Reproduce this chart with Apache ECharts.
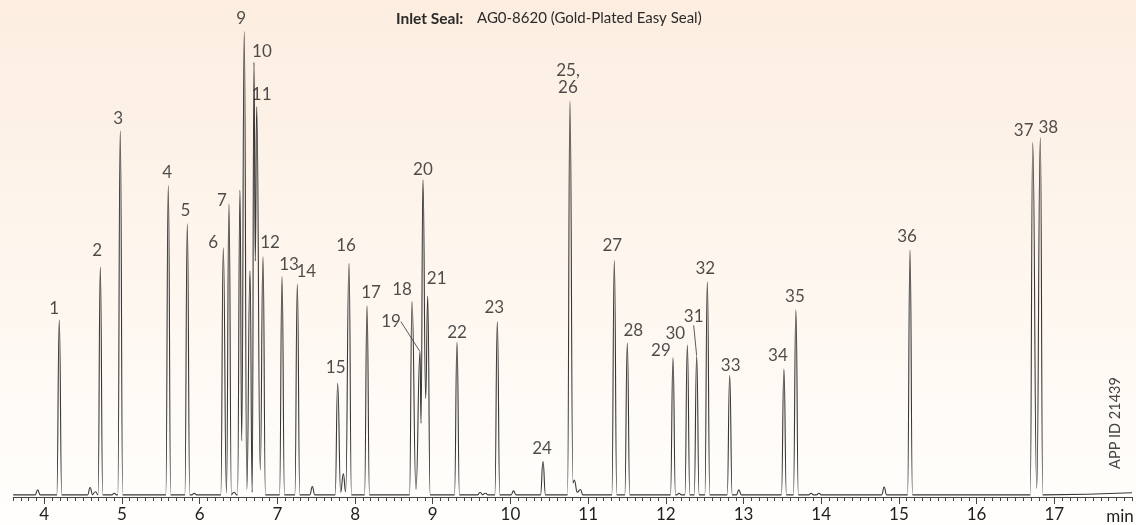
<!DOCTYPE html>
<html>
<head>
<meta charset="utf-8">
<script src="https://cdn.jsdelivr.net/npm/echarts@6/dist/echarts.min.js"></script>
<style>
  html, body { margin: 0; padding: 0; width: 1136px; height: 525px; overflow: hidden; background: #fff; }
  #chart { width: 1136px; height: 525px; }
</style>
</head>
<body>
<div id="chart"></div>
<script>
// ---- chromatogram data: retention time (min) and response (% of full scale) ----

// labelled peaks
const peakNames = ['1', '2', '3', '4', '5', '6', '7', '9', '10', '11', '12', '13', '14', '15', '16', '17',
  '18', '19', '20', '21', '22', '23', '24', '25,\n26', '27', '28', '29', '30', '31', '32', '33', '34',
  '35', '36', '37', '38'];
const peakTimes = [4.193, 4.721, 4.978, 5.596, 5.841, 6.304, 6.377, 6.574, 6.699, 6.734, 6.815, 7.060,
  7.257, 7.776, 7.922, 8.154, 8.733, 8.836, 8.874, 8.935, 9.312, 9.831, 10.419, 10.766, 11.337, 11.504,
  12.092, 12.277, 12.397, 12.534, 12.822, 13.520, 13.674, 15.143, 16.722, 16.820];
const peakHeights = [37.5, 48.7, 77.6, 66.0, 57.9, 52.8, 62.1, 98.6, 92.1, 82.7, 50.9, 46.7,
  45.1, 24.1, 49.5, 40.5, 41.4, 30.8, 67.2, 42.6, 32.8, 37.1, 7.5, 83.9, 50.1, 32.6,
  29.5, 32.2, 29.9, 45.6, 25.8, 27.1, 39.6, 52.3, 75.1, 76.1];

// unlabelled peaks and small baseline bumps
const minorPeakTimes = [3.915, 4.590, 4.660, 4.900, 5.930, 6.445, 6.519, 6.648, 7.450, 7.849,
  9.610, 9.680, 10.040, 10.822, 10.900, 12.170, 12.940, 13.870, 13.970, 14.810];
const minorPeakHeights = [1.5, 2.0, 1.1, 0.8, 0.8, 1.0, 65.0, 47.9, 2.2, 4.9,
  1.0, 0.8, 1.3, 3.6, 1.6, 0.8, 1.5, 0.8, 0.8, 2.1];

// valleys between co-eluting peaks
const valleyTimes = [6.345, 6.541, 6.607, 6.676, 6.716, 6.780, 7.815, 7.879, 8.784, 8.849,
  8.909, 10.805, 10.860, 16.774];
const valleyLevels = [0.85, 11.9, 1.6, 1.0, 50.0, 5.7, 1.0, 1.1, 1.6, 15.6,
  20.9, 3.0, 1.0, 1.8];

// baseline level, stepping up after the last pair of peaks
const baselineTimes = [3.6, 16.85];
const baselineLevels = [0.45, 0.9];

// time axis
const timeStart = 3.6;
const timeEnd = 18;
const timeTicks = [4, 5, 6, 7, 8, 9, 10, 11, 12, 13, 14, 15, 16, 17];

// ---- build the detector trace from the peak table ----
const HALF_BASE = 0.032; // half of a peak's base width, min

function baselineAt(t) {
  let lv = baselineLevels[0];
  baselineTimes.forEach((bt, i) => { if (t >= bt) lv = baselineLevels[i]; });
  return lv;
}

function buildTrace() {
  const keys = [];
  peakTimes.forEach((t, i) => keys.push({ t, v: peakHeights[i], peak: true }));
  minorPeakTimes.forEach((t, i) => keys.push({ t, v: minorPeakHeights[i], peak: true }));
  valleyTimes.forEach((t, i) => keys.push({ t, v: valleyLevels[i], peak: false }));
  keys.sort((a, b) => a.t - b.t);

  const pts = [[timeStart, baselineAt(timeStart)]];
  const push = (t, v) => { if (t > pts[pts.length - 1][0]) pts.push([t, v]); };
  keys.forEach((k, i) => {
    const prev = keys[i - 1];
    const next = keys[i + 1];
    if (k.peak) {
      if (!prev || prev.peak) push(k.t - HALF_BASE, baselineAt(k.t));
      push(k.t, k.v);
      if (!next || next.peak) push(k.t + HALF_BASE, baselineAt(k.t));
    } else {
      push(k.t, k.v);
    }
  });
  push(timeEnd, baselineAt(timeEnd));
  return pts;
}

// ---- peak label placement (pixel offsets from the apex) ----
const labelOffsets = {
  '1': [-5, -11], '2': [-3, -17], '3': [-2, -12], '4': [-1, -13], '5': [-2, -13],
  '6': [-10, -5], '7': [-7, -3], '9': [-3, -13], '10': [8, -11], '11': [5, -12],
  '12': [7, -14], '13': [7, -12], '14': [9, -13], '15': [-2, -16], '16': [-3, -18],
  '17': [4, -13], '18': [-10, -12], '19': [-29, -30], '20': [0, -10], '21': [9, -17],
  '22': [0, -10], '23': [-3, -14], '24': [-1, -13], '25,\n26': [-2, -22], '27': [-2, -15],
  '28': [6, -13], '29': [-12, -7], '30': [-12, -12], '31': [-3, -39], '32': [-2, -13],
  '33': [1, -10], '34': [-6, -14], '35': [-1, -14], '36': [-3, -14], '37': [-9, -12],
  '38': [8, -10]
};
const leaderLabels = ['19', '31'];

const FONT = 'Lato, "Noto Sans", sans-serif';
const TEXT = '#1f1f1f';

const labelData = peakNames.map((name, i) => {
  const item = { name, value: [peakTimes[i], peakHeights[i]] };
  if (leaderLabels.includes(name)) {
    item.labelLine = { show: true, lineStyle: { color: '#333', width: 0.8 } };
  }
  return item;
});

const chart = echarts.init(document.getElementById('chart'), null, { renderer: 'canvas' });

chart.setOption({
  animation: false,
  backgroundColor: new echarts.graphic.LinearGradient(0, 0, 0, 1, [
    { offset: 0, color: '#fcede0' },
    { offset: 0.5, color: '#fef6ee' },
    { offset: 1, color: '#fffefc' }
  ]),
  grid: { left: 13.2, right: 4, top: 25, bottom: 28, containLabel: false, outerBoundsMode: 'none' },
  xAxis: [
    {
      type: 'value', min: timeStart, max: timeEnd,
      axisLine: { show: true, lineStyle: { color: '#444', width: 1 } },
      axisTick: { show: true, customValues: timeTicks, length: 7, lineStyle: { color: '#444' } },
      axisLabel: { show: true, customValues: timeTicks, fontSize: 17, color: TEXT, fontFamily: FONT, margin: 9 },
      splitLine: { show: false }
    },
    {
      type: 'value', min: timeStart, max: timeEnd, interval: 0.1, position: 'bottom',
      axisLine: { show: false },
      axisTick: { show: true, length: 4, lineStyle: { color: '#444' } },
      axisLabel: { show: false },
      splitLine: { show: false }
    }
  ],
  yAxis: { type: 'value', min: 0, max: 100, show: false },
  series: [
    {
      type: 'line',
      xAxisIndex: 0,
      data: buildTrace(),
      showSymbol: false,
      smooth: 0.5,
      smoothMonotone: 'x',
      silent: true,
      lineStyle: { color: '#383838', width: 1.1 },
      z: 2
    },
    {
      type: 'scatter',
      xAxisIndex: 0,
      data: labelData,
      symbolSize: 1,
      itemStyle: { color: 'transparent' },
      silent: true,
      label: {
        show: true,
        position: 'inside',
        formatter: p => p.name,
        fontSize: 17,
        lineHeight: 17,
        color: TEXT,
        fontFamily: FONT
      },
      labelLayout: p => {
        const off = labelOffsets[peakNames[p.dataIndex]] || [0, -12];
        return { dx: off[0], dy: off[1] };
      },
      z: 3
    }
  ],
  graphic: [
    { type: 'text', left: 396, top: 11, style: { text: 'Inlet Seal:', font: 'bold 15.5px ' + FONT, fill: '#2a2a2a' } },
    { type: 'text', left: 477, top: 11, style: { text: 'AG0-8620 (Gold-Plated Easy Seal)', font: '15px ' + FONT, fill: '#2a2a2a' } },
    { type: 'text', x: 1115, y: 423, rotation: Math.PI / 2,
      style: { text: 'APP ID 21439', font: '14.5px ' + FONT, fill: '#444', align: 'center', verticalAlign: 'middle' } },
    { type: 'text', x: 1120, y: 517,
      style: { text: 'min', font: '17px ' + FONT, fill: TEXT, align: 'center', verticalAlign: 'middle' } }
  ]
});
</script>
</body>
</html>
